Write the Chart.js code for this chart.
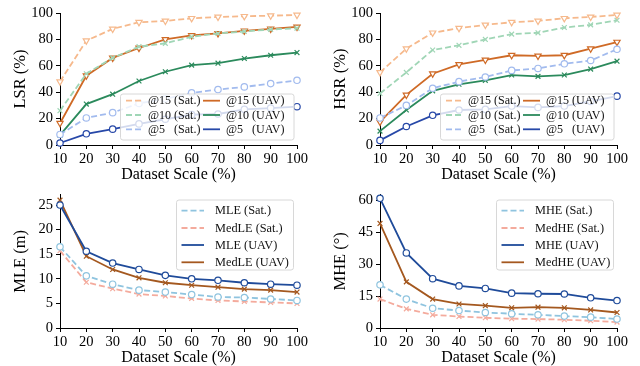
<!DOCTYPE html>
<html><head><meta charset="utf-8">
<script src="https://cdn.jsdelivr.net/npm/chart.js@4/dist/chart.umd.min.js"></script>
<style>
html,body{margin:0;padding:0;background:#fff;}
#wrap{position:relative;width:640px;height:366px;overflow:hidden;}
.p{position:absolute;width:320px;height:183px;}
canvas{display:block;}
</style></head><body>
<div id="wrap">
<div class="p" style="left:0;top:0"><canvas id="c1" width="320" height="183"></canvas></div>
<div class="p" style="left:320px;top:0"><canvas id="c2" width="320" height="183"></canvas></div>
<div class="p" style="left:0;top:183px"><canvas id="c3" width="320" height="183"></canvas></div>
<div class="p" style="left:320px;top:183px"><canvas id="c4" width="320" height="183"></canvas></div>
</div>
<script>
// ---- data ----
const scalesPct = [10,20,30,40,50,60,70,80,90,100];
const xTicks = [10,20,30,40,50,60,70,80,90,100];
const srTicks = [0,20,40,60,80,100];
const mleTicks = [0,5,10,15,20,25];
const mheTicks = [0,15,30,45,60];

const lsrSat15 = [48,79,88,93,94,96,97,97.5,98,98.5];
const lsrSat10 = [26,54,66,74.5,77,82,84.5,86,87.5,88.5];
const lsrSat5  = [8,20.5,24.5,31.5,35,39.5,42,44,46.5,49];
const lsrUav15 = [16.5,52.5,66,73.5,80,83,84.5,86.5,88,89.5];
const lsrUav10 = [7.5,31,38.5,48.5,55.5,60.5,62,65.5,68,70];
const lsrUav5  = [1.5,8.5,12,16,19.5,23,23.5,27,28,29];

const hsrSat15 = [55,73,85,88.5,91,93,94,96,97,98.5];
const hsrSat10 = [39,55,72,75.5,80,84,85,89,91,94.5];
const hsrSat5  = [20.5,30,43,48,51.5,56.5,58,61.5,64,72.5];
const hsrUav15 = [17.5,38,54,61,64.5,68,67.5,68,73,78];
const hsrUav10 = [10.5,26.5,41,46,49,53,52,53,57.5,63.5];
const hsrUav5  = [3.5,14,22.5,26.5,27,29.5,28.5,29.5,33,37];

const mleSat   = [16.5,10.6,8.9,7.7,7.3,6.8,6.3,6.2,5.9,5.6];
const medleSat = [15.7,9.3,8.0,6.9,6.5,6.0,5.6,5.4,5.2,5.0];
const mleUav   = [25,15.6,13.2,11.9,10.7,10.0,9.7,9.2,8.9,8.7];
const medleUav = [26,14.6,11.9,10.2,9.2,8.7,8.3,7.9,7.7,7.3];

const mheSat   = [20.3,13.6,9.3,8.2,7.3,6.7,6.2,5.6,5.1,4.2];
const medheSat = [13.6,9.0,6.2,5.4,4.8,4.4,4.2,3.9,3.4,2.8];
const mheUav   = [61,35.3,23.2,19.8,18.6,16.4,16.1,16.0,14.2,12.9];
const medheUav = [49.2,21.7,13.6,11.3,10.5,9.5,9.8,9.5,8.5,7.3];

// ---- styling ----
const FONT = '"Liberation Serif","Times New Roman",serif';
const C = {
  sat15:'#f6b98c', uav15:'#cf6a26',
  sat10:'#a0d6b6', uav10:'#2b8a5c',
  sat5:'#a2bbee',  uav5:'#2748a8',
  mleSat:'#8fc4df', medSat:'#f4ab9d', mleUav:'#1f4b9a', medUav:'#a4581f'
};
const DASH = [6,3];

function pts(arr){ return scalesPct.map((x,i)=>({x:x,y:arr[i]})); }
function ds(label, arr, color, dashed, marker){
  const o = {label, data:pts(arr), borderColor:color, backgroundColor:'#fff',
    borderWidth:1.8, borderDash: dashed?DASH:[], pointBorderColor:color,
    pointBackgroundColor:'#fff', pointBorderWidth:1.2, pointRadius:3.2,
    pointHoverRadius:3.2, tension:0, clip:false, fill:false};
  if (marker==='tri'){ o.pointStyle='triangle'; o.pointRotation=180; o.pointRadius=3.6; }
  else if (marker==='x'){ o.pointStyle='crossRot'; o.pointRadius=3.4; }
  else { o.pointStyle='circle'; }
  return o;
}

const boxLegend = {
  id:'boxLegend',
  afterDatasetsDraw(chart){
    const cfg = chart.options.plugins.boxLegend;
    if(!cfg) return;
    const ctx = chart.ctx;
    const [bx,by,bw,bh] = cfg.box;
    ctx.save();
    ctx.beginPath();
    const r=2.5;
    ctx.moveTo(bx+r,by); ctx.lineTo(bx+bw-r,by); ctx.quadraticCurveTo(bx+bw,by,bx+bw,by+r);
    ctx.lineTo(bx+bw,by+bh-r); ctx.quadraticCurveTo(bx+bw,by+bh,bx+bw-r,by+bh);
    ctx.lineTo(bx+r,by+bh); ctx.quadraticCurveTo(bx,by+bh,bx,by+bh-r);
    ctx.lineTo(bx,by+r); ctx.quadraticCurveTo(bx,by,bx+r,by);
    ctx.closePath();
    ctx.fillStyle='rgba(255,255,255,0.8)'; ctx.fill();
    ctx.strokeStyle='#d4d4d4'; ctx.lineWidth=0.9; ctx.stroke();
    ctx.font = cfg.fontSize+'px '+FONT;
    ctx.textBaseline='middle'; ctx.textAlign='left';
    const n = cfg.rows.length;
    chart.data.datasets.forEach((d,i)=>{
      const col = Math.floor(i/n), row = i%n;
      const c = cfg.cols[col], y = cfg.rows[row];
      ctx.beginPath();
      ctx.setLineDash(d.borderDash||[]);
      ctx.strokeStyle=d.borderColor; ctx.lineWidth=1.8;
      ctx.moveTo(c[0],y); ctx.lineTo(c[1],y); ctx.stroke();
      ctx.setLineDash([]);
      ctx.fillStyle='#111';
      ctx.fillText(d.label, c[2], y+0.5);
    });
    ctx.restore();
  }
};

function makeChart(id, datasets, yTitle, yMax, yTicks, legendCfg, padTop){
  const axisCommon = {
    grid:{drawOnChartArea:false, drawTicks:true, tickLength:4, color:'#000', tickWidth:1},
    border:{display:true, color:'#000', width:1},
  };
  new Chart(document.getElementById(id), {
    type:'line',
    data:{datasets},
    plugins:[boxLegend],
    options:{
      responsive:false, animation:false, devicePixelRatio:1,
      layout:{padding:{left:10, right:23, top:padTop, bottom:0}},
      plugins:{legend:{display:false}, tooltip:{enabled:false}, boxLegend:legendCfg},
      scales:{
        x:Object.assign({}, axisCommon, {
          type:'linear', min:10, max:100,
          afterBuildTicks:s=>{ s.ticks = xTicks.map(v=>({value:v})); },
          afterFit:s=>{ s.height = 38; },
          ticks:{color:'#000', font:{family:FONT, size:14.5}, padding:1, maxRotation:0, autoSkip:false},
          title:{display:true, text:'Dataset Scale (%)', color:'#000', font:{family:FONT, size:16, lineHeight:1}, padding:{top:0,bottom:0}}
        }),
        y:Object.assign({}, axisCommon, {
          type:'linear', min:0, max:yMax,
          afterBuildTicks:s=>{ s.ticks = yTicks.map(v=>({value:v})); },
          afterFit:s=>{ s.width = 50; },
          ticks:{color:'#000', font:{family:FONT, size:14.5}, padding:3},
          title:{display:true, text:yTitle, color:'#000', font:{family:FONT, size:16.5, lineHeight:1}, padding:{top:2,bottom:2}}
        })
      }
    }
  });
}

const topLegend = {box:[120.5,94,173.5,46], rows:[100.7,115,129.3], cols:[[126,143,148],[203,220,226]], fontSize:12};
const botLegend = {box:[176.5,17,117,70], rows:[27.7,45,62,79.3], cols:[[181.5,204,215]], fontSize:12.3};

makeChart('c1', [
  ds('@15 (Sat.)', lsrSat15, C.sat15, true, 'tri'),
  ds('@10 (Sat.)', lsrSat10, C.sat10, true, 'x'),
  ds('@5   (Sat.)', lsrSat5, C.sat5, true, 'o'),
  ds('@15 (UAV)', lsrUav15, C.uav15, false, 'tri'),
  ds('@10 (UAV)', lsrUav10, C.uav10, false, 'x'),
  ds('@5   (UAV)', lsrUav5, C.uav5, false, 'o')
], 'LSR (%)', 100, srTicks, topLegend, 13);

makeChart('c2', [
  ds('@15 (Sat.)', hsrSat15, C.sat15, true, 'tri'),
  ds('@10 (Sat.)', hsrSat10, C.sat10, true, 'x'),
  ds('@5   (Sat.)', hsrSat5, C.sat5, true, 'o'),
  ds('@15 (UAV)', hsrUav15, C.uav15, false, 'tri'),
  ds('@10 (UAV)', hsrUav10, C.uav10, false, 'x'),
  ds('@5   (UAV)', hsrUav5, C.uav5, false, 'o')
], 'HSR (%)', 100, srTicks, topLegend, 13);

makeChart('c3', [
  ds('MLE (Sat.)', mleSat, C.mleSat, true, 'o'),
  ds('MedLE (Sat.)', medleSat, C.medSat, true, 'x'),
  ds('MLE (UAV)', mleUav, C.mleUav, false, 'o'),
  ds('MedLE (UAV)', medleUav, C.medUav, false, 'x')
], 'MLE (m)', 27.1, mleTicks, botLegend, 10.5);

makeChart('c4', [
  ds('MHE (Sat.)', mheSat, C.mleSat, true, 'o'),
  ds('MedHE (Sat.)', medheSat, C.medSat, true, 'x'),
  ds('MHE (UAV)', mheUav, C.mleUav, false, 'o'),
  ds('MedHE (UAV)', medheUav, C.medUav, false, 'x')
], 'MHE (°)', 62.7, mheTicks, botLegend, 10.5);
</script>
</body></html>
